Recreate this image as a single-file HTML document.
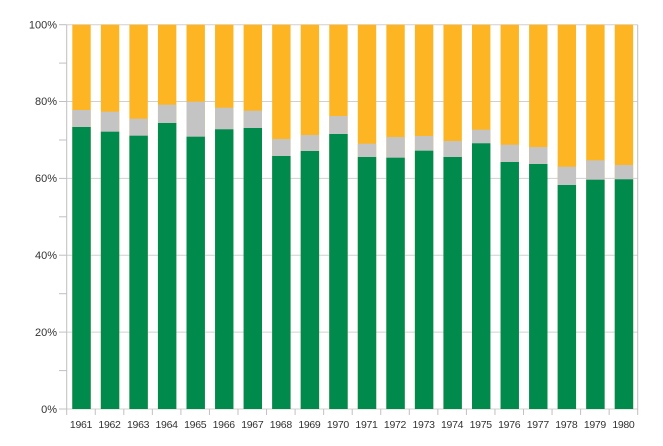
<!DOCTYPE html>
<html><head><style>body{margin:0;background:#fff}</style></head><body>
<svg width="663" height="441" xmlns="http://www.w3.org/2000/svg" font-family="Liberation Sans, sans-serif" font-size="11" fill="#333">
<g stroke="#d0d0d0">
<line x1="66.7" x2="637.7" y1="409" y2="409"/><line x1="66.7" x2="637.7" y1="332.1" y2="332.1"/><line x1="66.7" x2="637.7" y1="255.2" y2="255.2"/><line x1="66.7" x2="637.7" y1="178.4" y2="178.4"/><line x1="66.7" x2="637.7" y1="101.5" y2="101.5"/><line x1="66.7" x2="637.7" y1="24.7" y2="24.7"/>
</g>
<g stroke="#c0c0c0">
<line x1="59" x2="66.7" y1="409" y2="409"/><line x1="59" x2="66.7" y1="370.6" y2="370.6"/><line x1="59" x2="66.7" y1="332.1" y2="332.1"/><line x1="59" x2="66.7" y1="293.7" y2="293.7"/><line x1="59" x2="66.7" y1="255.2" y2="255.2"/><line x1="59" x2="66.7" y1="216.8" y2="216.8"/><line x1="59" x2="66.7" y1="178.4" y2="178.4"/><line x1="59" x2="66.7" y1="140" y2="140"/><line x1="59" x2="66.7" y1="101.5" y2="101.5"/><line x1="59" x2="66.7" y1="63.1" y2="63.1"/><line x1="59" x2="66.7" y1="24.7" y2="24.7"/>
</g>
<g text-anchor="end">
<text x="57" y="413">0%</text><text x="57" y="336">20%</text><text x="57" y="259">40%</text><text x="57" y="182">60%</text><text x="57" y="105">80%</text><text x="57" y="28.7">100%</text>
</g>
<g fill="#fdb524">
<rect x="72.3" y="24.7" width="18.4" height="384.3"/><rect x="100.85" y="24.7" width="18.4" height="384.3"/><rect x="129.4" y="24.7" width="18.4" height="384.3"/><rect x="157.95" y="24.7" width="18.4" height="384.3"/><rect x="186.5" y="24.7" width="18.4" height="384.3"/><rect x="215.05" y="24.7" width="18.4" height="384.3"/><rect x="243.6" y="24.7" width="18.4" height="384.3"/><rect x="272.15" y="24.7" width="18.4" height="384.3"/><rect x="300.7" y="24.7" width="18.4" height="384.3"/><rect x="329.25" y="24.7" width="18.4" height="384.3"/><rect x="357.8" y="24.7" width="18.4" height="384.3"/><rect x="386.35" y="24.7" width="18.4" height="384.3"/><rect x="414.9" y="24.7" width="18.4" height="384.3"/><rect x="443.45" y="24.7" width="18.4" height="384.3"/><rect x="472" y="24.7" width="18.4" height="384.3"/><rect x="500.55" y="24.7" width="18.4" height="384.3"/><rect x="529.1" y="24.7" width="18.4" height="384.3"/><rect x="557.65" y="24.7" width="18.4" height="384.3"/><rect x="586.2" y="24.7" width="18.4" height="384.3"/><rect x="614.75" y="24.7" width="18.4" height="384.3"/>
</g>
<g fill="#c4c4c4">
<rect x="72.3" y="110" width="18.4" height="299"/><rect x="100.85" y="111.7" width="18.4" height="297.3"/><rect x="129.4" y="118.7" width="18.4" height="290.3"/><rect x="157.95" y="104.7" width="18.4" height="304.3"/><rect x="186.5" y="101.7" width="18.4" height="307.3"/><rect x="215.05" y="107.7" width="18.4" height="301.3"/><rect x="243.6" y="110.7" width="18.4" height="298.3"/><rect x="272.15" y="139" width="18.4" height="270"/><rect x="300.7" y="135" width="18.4" height="274"/><rect x="329.25" y="116" width="18.4" height="293"/><rect x="357.8" y="143.7" width="18.4" height="265.3"/><rect x="386.35" y="137" width="18.4" height="272"/><rect x="414.9" y="136" width="18.4" height="273"/><rect x="443.45" y="141" width="18.4" height="268"/><rect x="472" y="129.7" width="18.4" height="279.3"/><rect x="500.55" y="144.7" width="18.4" height="264.3"/><rect x="529.1" y="147" width="18.4" height="262"/><rect x="557.65" y="166.7" width="18.4" height="242.3"/><rect x="586.2" y="160.3" width="18.4" height="248.7"/><rect x="614.75" y="165" width="18.4" height="244"/>
</g>
<g fill="#008b4c">
<rect x="72.3" y="127" width="18.4" height="282"/><rect x="100.85" y="131.7" width="18.4" height="277.3"/><rect x="129.4" y="135.7" width="18.4" height="273.3"/><rect x="157.95" y="123" width="18.4" height="286"/><rect x="186.5" y="136.7" width="18.4" height="272.3"/><rect x="215.05" y="129.3" width="18.4" height="279.7"/><rect x="243.6" y="128" width="18.4" height="281"/><rect x="272.15" y="156" width="18.4" height="253"/><rect x="300.7" y="151" width="18.4" height="258"/><rect x="329.25" y="134" width="18.4" height="275"/><rect x="357.8" y="157" width="18.4" height="252"/><rect x="386.35" y="157.7" width="18.4" height="251.3"/><rect x="414.9" y="150.7" width="18.4" height="258.3"/><rect x="443.45" y="157" width="18.4" height="252"/><rect x="472" y="143.3" width="18.4" height="265.7"/><rect x="500.55" y="162" width="18.4" height="247"/><rect x="529.1" y="164" width="18.4" height="245"/><rect x="557.65" y="185" width="18.4" height="224"/><rect x="586.2" y="179.7" width="18.4" height="229.3"/><rect x="614.75" y="179.3" width="18.4" height="229.7"/>
</g>
<g stroke="#c0c0c0">
<line x1="66.7" x2="66.7" y1="24.7" y2="415"/><line x1="637.7" x2="637.7" y1="24.7" y2="415"/>
<line x1="95.25" x2="95.25" y1="409" y2="415"/><line x1="123.8" x2="123.8" y1="409" y2="415"/><line x1="152.35" x2="152.35" y1="409" y2="415"/><line x1="180.9" x2="180.9" y1="409" y2="415"/><line x1="209.45" x2="209.45" y1="409" y2="415"/><line x1="238" x2="238" y1="409" y2="415"/><line x1="266.55" x2="266.55" y1="409" y2="415"/><line x1="295.1" x2="295.1" y1="409" y2="415"/><line x1="323.65" x2="323.65" y1="409" y2="415"/><line x1="352.2" x2="352.2" y1="409" y2="415"/><line x1="380.75" x2="380.75" y1="409" y2="415"/><line x1="409.3" x2="409.3" y1="409" y2="415"/><line x1="437.85" x2="437.85" y1="409" y2="415"/><line x1="466.4" x2="466.4" y1="409" y2="415"/><line x1="494.95" x2="494.95" y1="409" y2="415"/><line x1="523.5" x2="523.5" y1="409" y2="415"/><line x1="552.05" x2="552.05" y1="409" y2="415"/><line x1="580.6" x2="580.6" y1="409" y2="415"/><line x1="609.15" x2="609.15" y1="409" y2="415"/>
</g>
<g text-anchor="middle" font-size="10.5" letter-spacing="-0.3">
<text x="81" y="428">1961</text><text x="109.5" y="428">1962</text><text x="138.1" y="428">1963</text><text x="166.6" y="428">1964</text><text x="195.2" y="428">1965</text><text x="223.7" y="428">1966</text><text x="252.3" y="428">1967</text><text x="280.8" y="428">1968</text><text x="309.4" y="428">1969</text><text x="337.9" y="428">1970</text><text x="366.5" y="428">1971</text><text x="395" y="428">1972</text><text x="423.6" y="428">1973</text><text x="452.1" y="428">1974</text><text x="480.7" y="428">1975</text><text x="509.2" y="428">1976</text><text x="537.8" y="428">1977</text><text x="566.3" y="428">1978</text><text x="594.9" y="428">1979</text><text x="623.4" y="428">1980</text>
</g>
</svg>
</body></html>
